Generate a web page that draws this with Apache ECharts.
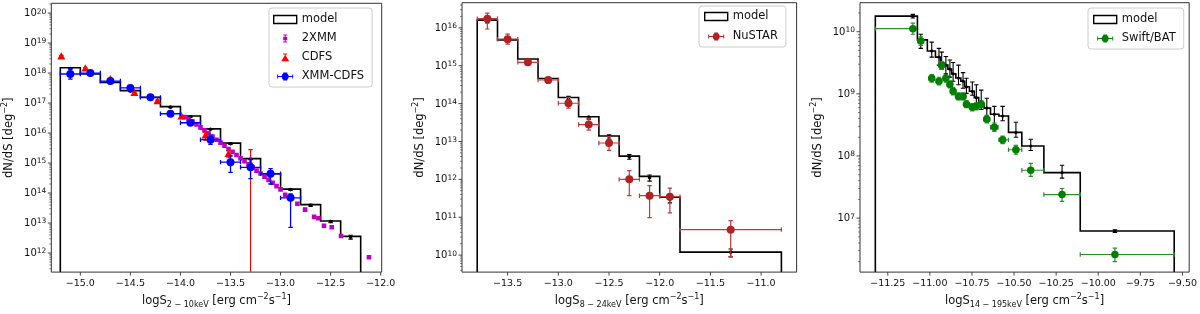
<!DOCTYPE html>
<html><head><meta charset="utf-8">
<script src="https://cdn.jsdelivr.net/npm/echarts@6/dist/echarts.min.js"></script>
<style>html,body{margin:0;padding:0;background:#fff}#c{width:1200px;height:314px}</style>
</head><body><div id="c"></div>
<script>
// ================= DATA =================
// ---- Panel 1 : 2-10 keV ----
const p1XTicks = [-15.0, -14.5, -14.0, -13.5, -13.0, -12.5, -12.0];
const p1ModelEdges = [-15.2,-15.0,-14.8,-14.6,-14.4,-14.2,-14.0,-13.8,-13.6,-13.4,-13.2,-13.0,-12.8,-12.6,-12.4,-12.2];
const p1ModelLevels = [1.5e18,9.3e17,4.9e17,2.6e17,1.55e17,7.6e16,3.7e16,1.38e16,4.6e15,1.4e15,4.4e14,1.35e14,4.1e13,1.17e13,3.6e12];
const p1ModelX  = [-15.1,-14.9,-14.7,-14.5,-14.3,-14.1,-13.9,-13.7,-13.5,-13.3,-13.1,-12.9,-12.7,-12.5,-12.3];
const p1ModelPt = [1.4e18,8.8e17,4.7e17,2.5e17,1.5e17,7.3e16,3.5e16,1.33e16,4.4e15,1.35e15,4.2e14,1.3e14,3.9e13,1.12e13,3.4e12];
const p1ModelLo = [1.35e18,8.5e17,4.5e17,2.4e17,1.45e17,7.0e16,3.4e16,1.28e16,4.2e15,1.29e15,4.0e14,1.22e14,3.6e13,1.03e13,2.9e12];
const p1ModelHi = [1.45e18,9.1e17,4.9e17,2.6e17,1.55e17,7.6e16,3.6e16,1.38e16,4.6e15,1.41e15,4.4e14,1.38e14,4.2e13,1.21e13,3.9e12];

const p1XmmX = [-13.96,-13.92,-13.88,-13.84,-13.80,-13.76,-13.72,-13.68,-13.64,-13.60,-13.56,-13.52,-13.48,-13.44,-13.40,-13.36,-13.32,-13.28,-13.24,-13.20,-13.16,-13.12,-13.08,-13.04,-13.00,
                -12.954,-12.898,-12.832,-12.755,-12.665,-12.622,-12.566,-12.489,-12.396,-12.117];
const p1XmmY = [3.4e16,2.9e16,2.4e16,1.95e16,1.55e16,1.23e16,9.8e15,7.6e15,6.0e15,4.8e15,3.8e15,2.95e15,2.35e15,1.86e15,1.45e15,1.15e15,9.1e14,7.2e14,5.6e14,4.5e14,3.5e14,2.75e14,2.2e14,1.7e14,1.32e14,
                8.7e13,7.1e13,4.4e13,2.8e13,1.6e13,1.45e13,8.1e12,7.2e12,3.7e12,7.2e11];

const p1CdfsX  = [-15.19,-14.95,-14.70,-14.46,-14.23,-13.99,-13.75,-13.52,-13.30];
const p1CdfsY  = [3.5e18,1.38e18,6.0e17,2.1e17,1.12e17,3.5e16,8.1e15,1.95e15,9.3e14];
const p1CdfsLo = [3.2e18,1.25e18,5.4e17,1.85e17,1.0e17,3.2e16,5.8e15,1.5e15,1e10];
const p1CdfsHi = [3.8e18,1.5e18,6.6e17,2.3e17,1.25e17,3.9e16,1.05e16,2.6e15,2.8e15];

const p1XcX   = [-15.1,-14.9,-14.7,-14.5,-14.3,-14.1,-13.9,-13.7,-13.5,-13.3,-13.1,-12.9];
const p1XcY   = [9.3e17,1.0e18,5.4e17,3.2e17,1.55e17,4.4e16,2.2e16,6.0e15,1.07e15,7.2e14,4.4e14,6.9e13];
const p1XcLo  = [6.3e17,8.9e17,4.8e17,2.8e17,1.38e17,3.9e16,1.9e16,4.2e15,4.9e14,3.0e14,2.0e14,7.2e12];
const p1XcHi  = [1.41e18,1.12e18,6.0e17,3.6e17,1.74e17,5.0e16,2.6e16,8.5e15,1.74e15,1.35e15,6.5e14,9.3e13];
const p1XcXlo = [-15.2,-15.0,-14.8,-14.6,-14.4,-14.2,-14.0,-13.8,-13.6,-13.4,-13.2,-13.0];
const p1XcXhi = [-15.0,-14.8,-14.6,-14.4,-14.2,-14.0,-13.8,-13.6,-13.4,-13.2,-13.0,-12.8];

// ---- Panel 2 : 8-24 keV ----
const p2XTicks = [-13.5, -13.0, -12.5, -12.0, -11.5, -11.0];
const p2ModelEdges = [-13.8,-13.6,-13.4,-13.2,-13.0,-12.8,-12.6,-12.4,-12.2,-12.0,-11.8,-10.8];
const p2ModelLevels = [1.6e16,4.8e15,1.5e15,4.6e14,1.45e14,4.5e13,1.4e13,4.1e12,1.2e12,3.4e11,1.2e10];
const p2ModelX  = [-13.7,-13.5,-13.3,-13.1,-12.9,-12.7,-12.5,-12.3,-12.1,-11.9,-11.3];
const p2ModelPt = [1.48e16,4.5e15,1.45e15,4.4e14,1.4e14,4.4e13,1.35e13,3.9e12,1.1e12,3.0e11,1.2e10];
const p2ModelLo = [1.35e16,4.3e15,1.33e15,4.1e14,1.25e14,3.9e13,1.15e13,3.4e12,9.0e11,2.4e11,9.0e9];
const p2ModelHi = [1.6e16,4.7e15,1.5e15,4.6e14,1.55e14,4.5e13,1.5e13,4.5e12,1.3e12,3.7e11,1.45e10];

const p2NuX   = [-13.7,-13.5,-13.3,-13.1,-12.9,-12.7,-12.5,-12.3,-12.1,-11.9,-11.3];
const p2NuY   = [1.74e16,5.0e15,1.23e15,4.2e14,1.02e14,2.8e13,9.1e12,1.0e12,3.7e11,3.5e11,4.7e10];
const p2NuLo  = [9.3e15,3.7e15,1.02e15,3.4e14,7.6e13,2.0e13,5.8e12,3.7e11,9.8e10,1.3e11,9.1e9];
const p2NuHi  = [2.45e16,6.8e15,1.5e15,4.8e14,1.45e14,4.1e13,1.35e13,1.7e12,6.8e11,5.9e11,8.1e10];
const p2NuXlo = [-13.8,-13.6,-13.4,-13.2,-13.0,-12.8,-12.6,-12.4,-12.2,-12.0,-11.8];
const p2NuXhi = [-13.6,-13.4,-13.2,-13.0,-12.8,-12.6,-12.4,-12.2,-12.0,-11.8,-10.8];

// ---- Panel 3 : 14-195 keV ----
const p3XTicks = [-11.25, -11.0, -10.75, -10.5, -10.25, -10.0, -9.75, -9.5];
const p3ModelEdges = [-11.324,-11.074,-11.015,-10.967,-10.938,-10.917,-10.893,-10.871,-10.846,-10.816,-10.793,-10.765,-10.736,-10.71,-10.678,-10.64,-10.59,-10.533,-10.454,-10.323,-10.107,-9.549];
const p3ModelLevels = [1.78e10,7.4e9,4.9e9,3.9e9,3.2e9,2.9e9,2.5e9,2.1e9,1.8e9,1.6e9,1.3e9,1.1e9,8.7e8,6.9e8,5.9e8,4.7e8,4.4e8,2.4e8,1.45e8,5.4e7,6.2e6];
const p3X = [-11.101,-11.054,-10.989,-10.946,-10.930,-10.905,-10.881,-10.862,-10.830,-10.803,-10.783,-10.748,-10.724,-10.695,-10.662,-10.617,-10.568,-10.489,-10.401,-10.215,-9.901];
const p3ModelLo = [1.66e10,5.4e9,3.9e9,2.9e9,2.5e9,2.1e9,1.86e9,1.6e9,1.4e9,1.23e9,1.02e9,9.5e8,6.8e8,5.6e8,4.4e8,3.2e8,3.7e8,2.0e8,1.23e8,4.4e7,5.9e6];
const p3ModelHi = [1.9e10,9.1e9,6.8e9,5.4e9,4.7e9,4.0e9,3.5e9,3.2e9,2.9e9,2.2e9,1.78e9,1.55e9,1.4e9,1.15e9,8.5e8,6.3e8,6.3e8,3.5e8,1.86e8,7.1e7,6.5e6];
const p3BatY  = [1.12e10,7.1e9,1.78e9,1.6e9,2.9e9,1.78e9,1.42e9,1.1e9,9.1e8,9.1e8,6.8e8,6.1e8,6.3e8,6.8e8,3.9e8,2.9e8,1.82e8,1.26e8,5.9e7,2.4e7,2.6e6];
const p3BatLo = [9.1e9,6.0e9,1.55e9,1.4e9,2.5e9,1.55e9,1.25e9,9.6e8,8.0e8,8.0e8,6.0e8,5.3e8,5.5e8,6.0e8,3.4e8,2.5e8,1.58e8,1.07e8,4.7e7,1.86e7,2.0e6];
const p3BatHi = [1.38e10,8.3e9,2.05e9,1.85e9,3.3e9,2.05e9,1.62e9,1.26e9,1.04e9,1.04e9,7.8e8,7.0e8,7.2e8,7.8e8,4.5e8,3.4e8,2.1e8,1.48e8,7.6e7,3.0e7,3.3e6];
const p3BatXlo = [-11.324,-11.07,-11.005,-10.962,-10.945,-10.92,-10.896,-10.877,-10.845,-10.818,-10.798,-10.763,-10.739,-10.71,-10.68,-10.64,-10.59,-10.533,-10.454,-10.323,-10.107];
const p3BatXhi = [-11.08,-11.04,-10.974,-10.931,-10.915,-10.89,-10.866,-10.847,-10.815,-10.788,-10.768,-10.733,-10.709,-10.68,-10.645,-10.595,-10.533,-10.454,-10.323,-10.107,-9.549];

// ================= LAYOUT =================
const FONT = 'DejaVu Sans';
const AX = '#333';
const panels = [
  {grid:{left:51.3, top:3.3, width:330.4, height:276}, x:[-15.29,-11.99], y:[Math.pow(10,11.364), Math.pow(10,20.325)], xt:p1XTicks, dec:1,
   xname:'logS{sub|2 − 10keV} [erg cm{sup|−2}s{sup|−1}]'},
  {grid:{left:462, top:2.7, width:334.6, height:274.6}, x:[-13.95,-10.65], y:[Math.pow(10,9.552), Math.pow(10,16.663)], xt:p2XTicks, dec:1,
   xname:'logS{sub|8 − 24keV} [erg cm{sup|−2}s{sup|−1}]'},
  {grid:{left:860, top:2.7, width:333, height:274.6}, x:[-11.415,-9.46], y:[Math.pow(10,6.132), Math.pow(10,10.467)], xt:p3XTicks, dec:2,
   xname:'logS{sub|14 − 195keV} [erg cm{sup|−2}s{sup|−1}]'}
];

function fmtX(dec){ return v => (v < 0 ? '\u2212' : '') + Math.abs(v).toFixed(dec); }

function histSeries(gi, edges, levels) {
  const ymin = panels[gi].y[0];
  return {
    type:'custom', name:'model', xAxisIndex:gi, yAxisIndex:gi, silent:true,
    itemStyle:{color:'#000'},
    data: levels.map((v,i) => [edges[i], v]), encode:{x:0, y:1},
    renderItem:(params, api) => {
      if (params.dataIndex !== 0) return null;
      const pts = [api.coord([edges[0], ymin])];
      for (let i = 0; i < levels.length; i++) {
        pts.push(api.coord([edges[i], levels[i]]));
        pts.push(api.coord([edges[i+1], levels[i]]));
      }
      pts.push(api.coord([edges[edges.length-1], ymin]));
      return {type:'polyline', shape:{points:pts}, style:{stroke:'#000', lineWidth:1.6, fill:null}};
    }
  };
}

function ebSeries(name, gi, color, xs, ys, lo, hi, xlo, xhi, marker, size, barColor, lw) {
  const ymin = panels[gi].y[0];
  const data = xs.map((x,i) => [x, ys[i], lo ? lo[i] : ys[i], hi ? hi[i] : ys[i], xlo ? xlo[i] : x, xhi ? xhi[i] : x]);
  return {
    type:'custom', name, xAxisIndex:gi, yAxisIndex:gi, silent:true, clip:true,
    itemStyle:{color}, data, encode:{x:0, y:1},
    renderItem:(params, api) => {
      const x = api.value(0), y = api.value(1);
      const yl = Math.max(api.value(2), ymin), yh = api.value(3), xl = api.value(4), xh = api.value(5);
      const c = api.coord([x, y]);
      const a = api.coord([x, yl]), b = api.coord([x, yh]);
      const l = api.coord([xl, y]), r = api.coord([xh, y]);
      const st = {stroke: barColor || color, lineWidth: lw || 1.1};
      const ch = [];
      const cap = 2.2;
      const L = (x1,y1,x2,y2) => ch.push({type:'line', shape:{x1,y1,x2,y2}, style:st});
      if (Math.abs(a[1]-b[1]) > 0.6) {
        L(c[0], a[1], c[0], b[1]);
        L(c[0]-cap, b[1], c[0]+cap, b[1]);
        if (api.value(2) > ymin) L(c[0]-cap, a[1], c[0]+cap, a[1]);
      }
      if (Math.abs(l[0]-r[0]) > 0.6) {
        L(l[0], c[1], r[0], c[1]);
        L(l[0], c[1]-cap, l[0], c[1]+cap);
        L(r[0], c[1]-cap, r[0], c[1]+cap);
      }
      const s = size;
      if (marker === 'circle') ch.push({type:'circle', shape:{cx:c[0], cy:c[1], r:s/2}, style:{fill:color}});
      else if (marker === 'square') ch.push({type:'rect', shape:{x:c[0]-s/2, y:c[1]-s/2, width:s, height:s}, style:{fill:color}});
      else if (marker === 'triangle') ch.push({type:'polygon', shape:{points:[[c[0], c[1]-s*0.58],[c[0]+s*0.5, c[1]+s*0.34],[c[0]-s*0.5, c[1]+s*0.34]]}, style:{fill:color}});
      return {type:'group', children:ch};
    }
  };
}

function tickSeries(gi) {
  const P = panels[gi];
  return {
    type:'custom', xAxisIndex:gi, yAxisIndex:gi, silent:true, clip:false, z:5,
    data:[[P.x[0], P.y[0]]], encode:{x:0, y:1},
    renderItem:(params, api) => {
      const ch = [];
      const x0 = api.coord([P.x[0], P.y[0]])[0];
      const yb = api.coord([P.x[0], P.y[0]])[1];
      const e0 = Math.floor(Math.log10(P.y[0])), e1 = Math.ceil(Math.log10(P.y[1]));
      for (let e = e0; e <= e1; e++) {
        for (let k = 1; k <= 9; k++) {
          const v = k * Math.pow(10, e);
          if (v < P.y[0] || v > P.y[1]) continue;
          const y = api.coord([P.x[0], v])[1];
          const len = k === 1 ? 3.5 : 2;
          ch.push({type:'line', shape:{x1:x0-len, y1:y, x2:x0, y2:y}, style:{stroke:AX, lineWidth:k===1?0.9:0.6}});
        }
      }
      P.xt.forEach(t => {
        const x = api.coord([t, P.y[0]])[0];
        ch.push({type:'line', shape:{x1:x, y1:yb, x2:x, y2:yb+3.5}, style:{stroke:AX, lineWidth:0.9}});
      });
      return {type:'group', children:ch};
    }
  };
}

const supRich = {
  b:{fontSize:10, fontFamily:FONT, color:'#111', lineHeight:11, verticalAlign:'bottom'},
  s:{fontSize:7.5, fontFamily:FONT, color:'#111', lineHeight:8, verticalAlign:'top'}
};
const nameRich = {
  sub:{fontSize:8, fontFamily:FONT, color:'#111', lineHeight:9, verticalAlign:'bottom'},
  sup:{fontSize:8, fontFamily:FONT, color:'#111', lineHeight:9, verticalAlign:'top'}
};

const grids = panels.map(p => Object.assign({show:true, borderColor:AX, borderWidth:1, backgroundColor:'transparent', containLabel:false}, p.grid));
const xAxes = panels.map((p, i) => ({
  type:'value', gridIndex:i, min:p.x[0], max:p.x[1],
  minInterval: p.dec === 2 ? 0.25 : 0.5, maxInterval: p.dec === 2 ? 0.25 : 0.5,
  axisLine:{show:false}, axisTick:{show:false}, splitLine:{show:false},
  axisLabel:{customValues:p.xt, formatter:v => (p.xt.some(t => Math.abs(t - v) < 1e-6) ? fmtX(p.dec)(v) : ''),
    fontSize:9.5, fontFamily:FONT, color:'#111', margin:6},
  name:p.xname, nameLocation:'middle', nameGap:18,
  nameTextStyle:{fontSize:11.5, fontFamily:FONT, color:'#111', lineHeight:16, rich:nameRich}
}));
const yAxes = panels.map((p, i) => ({
  type:'log', logBase:10, gridIndex:i, min:p.y[0], max:p.y[1],
  axisLine:{show:false}, axisTick:{show:false}, splitLine:{show:false}, minorTick:{show:false},
  axisLabel:{formatter:v => { const e = Math.log10(v); const r = Math.round(e); return Math.abs(e - r) > 1e-4 ? '' : '{b|10}{s|' + r + '}'; },
    rich:supRich, margin:5, showMinLabel:true, showMaxLabel:true},
  name:'dN/dS [deg{sup|−2}]', nameLocation:'middle', nameGap:34,
  nameTextStyle:{fontSize:11.5, fontFamily:FONT, color:'#111', lineHeight:16, rich:nameRich}
}));

const ICON_XY = 'path://M0,3.5h16v1h-16z M0,2h0.9v4h-0.9z M15.1,2h0.9v4h-0.9z M7.5,0h1v8h-1z M6,0h4v0.9h-4z M6,7.1h4v0.9h-4z M4.5,4a3.5,3.5 0 1,1 7,0a3.5,3.5 0 1,1 -7,0z';
const ICON_SQ = 'path://M2,0h1v8h-1z M0.5,0h4v0.9h-4z M0.5,7.1h4v0.9h-4z M0.5,2.2h4v3.6h-4z';
const ICON_TRI = 'path://M3.5,0h1v8h-1z M2,0h4v0.9h-4z M4,1.2 L8,7.8 L0,7.8 Z';
const modelItem = {name:'model', icon:'rect', itemStyle:{color:'#fff', borderColor:'#000', borderWidth:1.4}};

function legendBase(left, top, gap, pad) {
  return {orient:'vertical', left, top, itemWidth:23, itemHeight:8, itemGap:gap, itemTextGap:11, padding:pad,
    borderColor:'#cccccc', borderWidth:1, borderRadius:3, backgroundColor:'rgba(255,255,255,0.85)', selectedMode:false,
    textStyle:{fontSize:11.5, fontFamily:FONT, color:'#111', lineHeight:13}};
}

const option = {
  animation:false,
  backgroundColor:'#fff',
  grid:grids,
  xAxis:xAxes,
  yAxis:yAxes,
  legend:[
    Object.assign(legendBase(269, 8, 6, [5,8,4,4]), {data:[modelItem,
      {name:'2XMM', icon:ICON_SQ, itemStyle:{color:'#bf00bf'}},
      {name:'CDFS', icon:ICON_TRI, itemStyle:{color:'#ff0000'}},
      {name:'XMM-CDFS', icon:ICON_XY, itemStyle:{color:'#0000ff'}}]}),
    Object.assign(legendBase(699, 6, 7, [4,8,4,5]), {data:[modelItem,
      {name:'NuSTAR', icon:ICON_XY, itemStyle:{color:'#b22222'}}]}),
    Object.assign(legendBase(1088, 8, 6, [5,8,4,5]), {data:[modelItem,
      {name:'Swift/BAT', icon:ICON_XY, itemStyle:{color:'#008000'}}]})
  ],
  series:[
    histSeries(0, p1ModelEdges, p1ModelLevels),
    ebSeries('model', 0, '#000', p1ModelX, p1ModelPt, p1ModelLo, p1ModelHi, null, null, 'circle', 3.6),
    ebSeries('2XMM', 0, '#bf00bf', p1XmmX, p1XmmY, null, null, null, null, 'square', 4.6),
    ebSeries('CDFS', 0, '#ff0000', p1CdfsX, p1CdfsY, p1CdfsLo, p1CdfsHi, null, null, 'triangle', 8),
    ebSeries('XMM-CDFS', 0, '#0000ff', p1XcX, p1XcY, p1XcLo, p1XcHi, p1XcXlo, p1XcXhi, 'circle', 8, null, 1.3),
    tickSeries(0),

    histSeries(1, p2ModelEdges, p2ModelLevels),
    ebSeries('model', 1, '#000', p2ModelX, p2ModelPt, p2ModelLo, p2ModelHi, null, null, 'circle', 3.6),
    ebSeries('NuSTAR', 1, '#b22222', p2NuX, p2NuY, p2NuLo, p2NuHi, p2NuXlo, p2NuXhi, 'circle', 8, '#c03a3a', 1.2),
    tickSeries(1),

    histSeries(2, p3ModelEdges, p3ModelLevels),
    ebSeries('model', 2, '#000', p3X, p3ModelLevels, p3ModelLo, p3ModelHi, null, null, 'circle', 3.2),
    ebSeries('Swift/BAT', 2, '#008000', p3X, p3BatY, p3BatLo, p3BatHi, p3BatXlo, p3BatXhi, 'circle', 7.5, '#2a8f2a', 1.2),
    tickSeries(2)
  ]
};

const chart = echarts.init(document.getElementById('c'), null, {renderer:'canvas'});
chart.setOption(option);
</script>
</body></html>
